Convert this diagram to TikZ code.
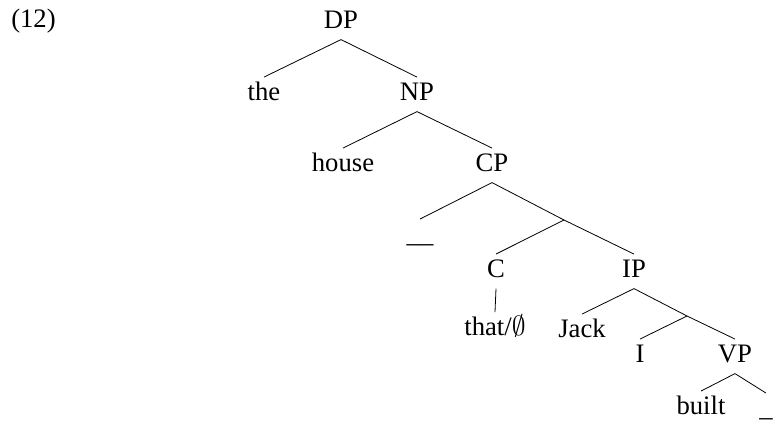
\documentclass[tikz,border=0pt]{standalone}
\usepackage{fontspec}
\setmainfont{Liberation Serif}
\begin{document}
\begin{tikzpicture}[x=0.75pt,y=-0.75pt,
  lbl/.style={font=\fontsize{20}{24}\selectfont, inner sep=0pt,
              text height=17pt, text depth=8.5pt, anchor=base},
  branch/.style={line width=0.6pt}]
\useasboundingbox (0,0) rectangle (775,421);

% example number
\node[lbl, anchor=base west] (num) at (11,27) {(12)};

% labels, placed on their baselines
\node[lbl] (dp)    at (341,28)  {DP};
\node[lbl] (the)   at (264,100) {the};
\node[lbl] (np)    at (417,100) {NP};
\node[lbl] (house) at (343,171) {house};
\node[lbl] (cp)    at (492,171) {CP};
\node[lbl] (gap1)  at (420,242) {\_\_};
\node[lbl] (c)     at (496,277) {C};
\node[lbl] (ip)    at (634,277) {IP};
\node[lbl] (that)  at (495,335) {that/$\emptyset$};
\node[lbl] (jack)  at (582,337) {Jack};
\node[lbl] (i)     at (640,362) {I};
\node[lbl] (vp)    at (735,362) {VP};
\node[lbl] (built) at (701,414) {built};
\node[lbl] (gap2)  at (766,416) {\_};

% unlabelled bar-level nodes
\coordinate (cbar) at (564,220);
\coordinate (ibar) at (687,316);

% branches
\draw[branch] (dp.south) -- (the.north);
\draw[branch] (dp.south) -- (np.north);
\draw[branch] (np.south) -- (house.north);
\draw[branch] (np.south) -- (cp.north);
\draw[branch] (cp.south) -- (gap1.north);
\draw[branch] (cp.south) -- (cbar) -- (ip.north);
\draw[branch] (cbar) -- (c.north);
\draw[branch] (c.south) -- (that.north);
\draw[branch] (ip.south) -- (jack.north);
\draw[branch] (ip.south) -- (ibar) -- (vp.north);
\draw[branch] (ibar) -- (i.north);
\draw[branch] (vp.south) -- (built.north);
\draw[branch] (vp.south) -- (gap2.north);
\end{tikzpicture}
\end{document}
